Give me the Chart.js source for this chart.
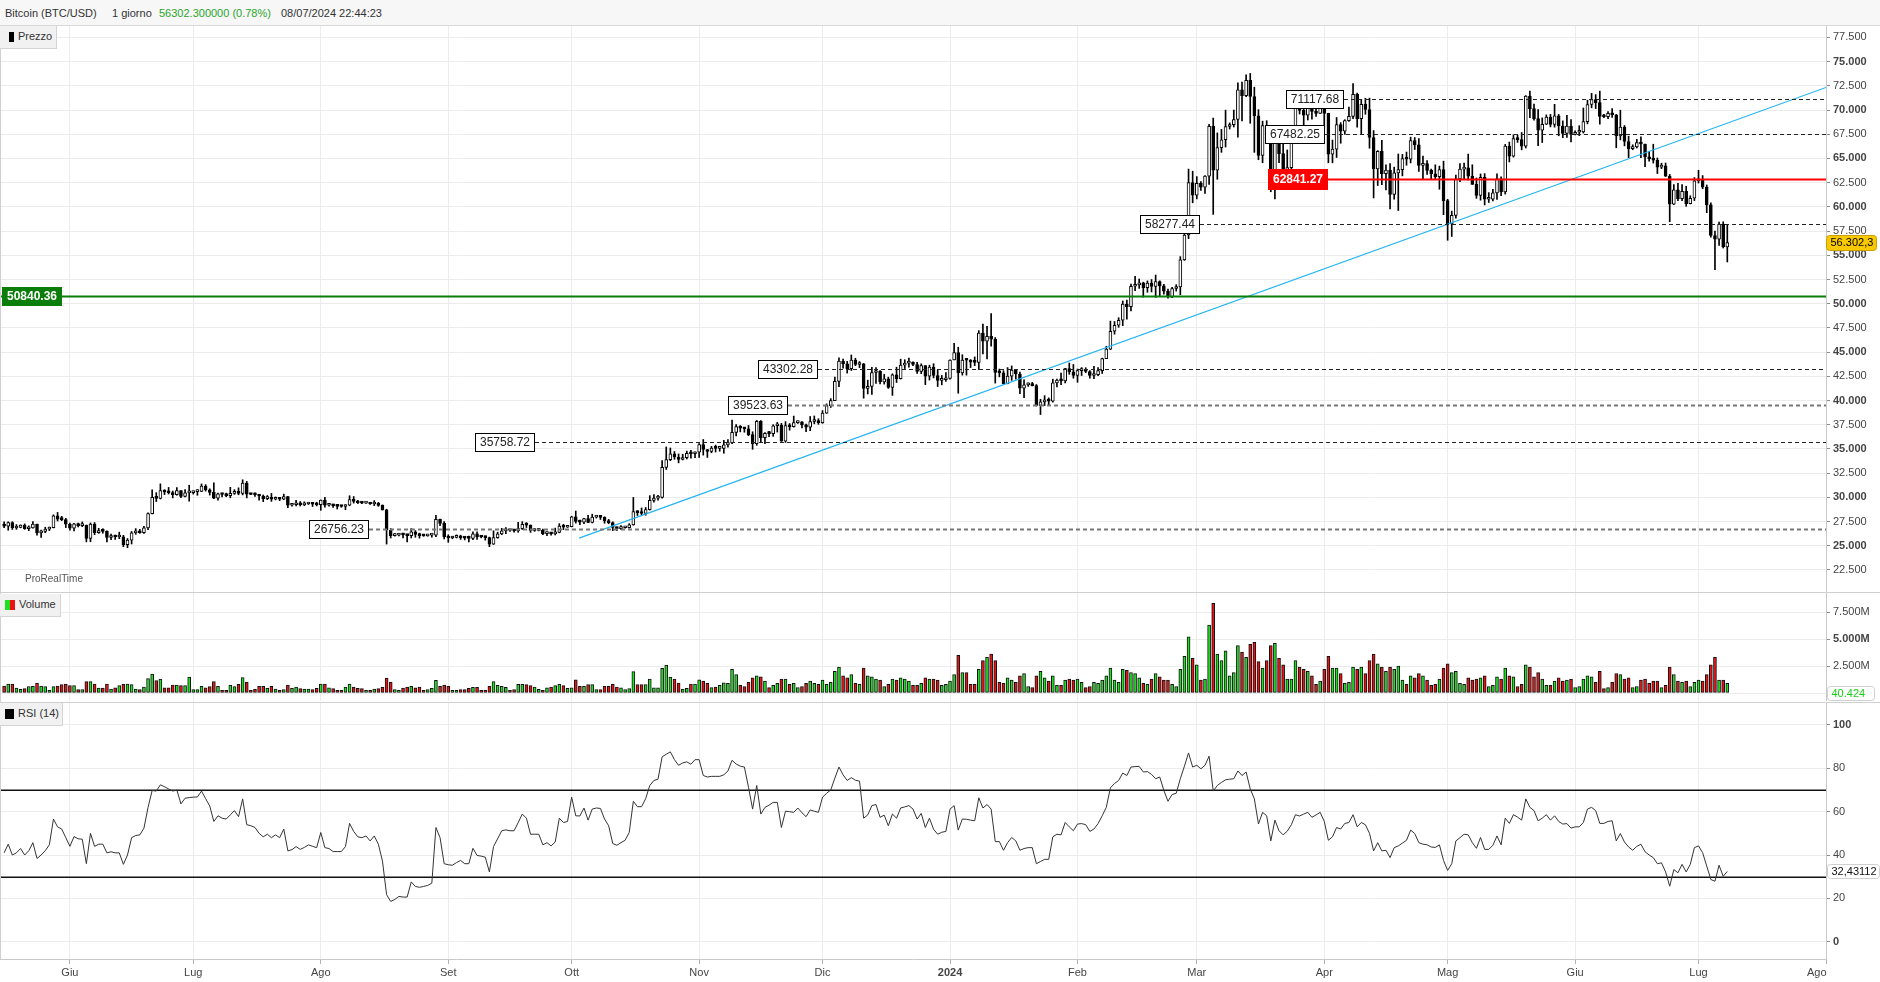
<!DOCTYPE html>
<html><head><meta charset="utf-8">
<script src="https://cdn.jsdelivr.net/npm/chart.js@4.4.1/dist/chart.umd.min.js"></script>
<style>
body{margin:0;background:#fff;width:1880px;height:982px;overflow:hidden;font-family:"Liberation Sans",Arial,sans-serif;position:relative;}
#hdr{position:absolute;left:0;top:0;width:1880px;height:25px;background:#f7f7f7;border-bottom:1px solid #d8d8d8;}
#hdr span{position:absolute;top:7px;font-size:11px;color:#333;white-space:nowrap;}
canvas{position:absolute;left:0;}
.sep{position:absolute;left:0;width:1880px;height:1px;background:#cfcfcf;}
.leg{position:absolute;left:0;background:#f1f1f1;border-right:1px solid #d4d4d4;border-bottom:1px solid #d4d4d4;font-size:11px;color:#333;}
.leg i{position:absolute;display:block;}
.leg span{position:absolute;white-space:nowrap;}
#prt{position:absolute;left:25px;top:573px;font-size:10px;color:#555;}
#lborder{position:absolute;left:0;top:26px;width:1px;height:933px;background:#d0d0d0;}
</style></head>
<body>
<div id="hdr">
 <span style="left:5px">Bitcoin (BTC/USD)</span>
 <span style="left:112px">1 giorno</span>
 <span style="left:159px;color:#2aa52a">56302.300000 (0.78%)</span>
 <span style="left:281px">08/07/2024 22:44:23</span>
</div>
<canvas id="cp" width="1880" height="566" style="top:26px;width:1880px;height:566px"></canvas>
<canvas id="cv" width="1880" height="108" style="top:593px;width:1880px;height:108px"></canvas>
<canvas id="cr" width="1880" height="279" style="top:703px;width:1880px;height:279px"></canvas>
<div class="sep" style="top:592px"></div>
<div class="sep" style="top:702px"></div>
<div id="lborder"></div>
<div class="leg" style="top:26px;width:56px;height:22px"><i style="left:9px;top:6px;width:5px;height:10px;background:#000"></i><span style="left:18px;top:4px">Prezzo</span></div>
<div class="leg" style="top:594px;width:60px;height:22px"><i style="left:5px;top:6px;width:5px;height:10px;background:#1fe01f"></i><i style="left:10px;top:6px;width:5px;height:10px;background:#ee1111"></i><span style="left:19px;top:4px">Volume</span></div>
<div class="leg" style="top:703px;width:62px;height:22px"><i style="left:5px;top:6px;width:9px;height:10px;background:#000"></i><span style="left:18px;top:4px">RSI (14)</span></div>
<div id="prt">ProRealTime</div>
<script>
// ---------- DATA (daily, 16 May 2023 -> 8 Jul 2024) ----------
const open = [
27170,27030,27400,26830,26890,27120,26750,26850,27230,26330,26480,26720,26870,28080,27750,27700,
27220,26820,27250,27070,27120,25760,27240,26350,26500,26480,25850,25940,25900,25920,25120,25580,26330,26510,26340,26850,28310,30010,29890,30690,30550,30470,30270,30690,30080,30450,
30480,30590,30620,31160,30770,30510,29900,30350,30290,30170,30410,30620,30390,31480,30320,30290,30250,30140,29860,29920,29800,29910,29800,30080,29180,29230,29350,29220,29310,29350,29280,
29230,29710,29180,29190,29110,29070,29050,29180,29770,29580,29440,29400,29420,29310,29410,29170,28700,26620,26050,26100,26190,26120,26040,26430,26160,26050,26010,26090,26100,27730,27300,
25930,25800,25870,25970,25820,25790,25760,26240,25910,25900,25840,25160,25840,26230,26530,26610,26570,26530,26770,27210,27130,26570,26580,26580,26250,26300,26220,26370,27030,26910,
26970,27980,27510,27430,27800,27410,27950,27970,27930,27600,27390,26880,26760,26860,26860,27160,28520,28420,28330,28720,29680,29920,30000,33090,33900,34500,34160,33910,34090,34540,34500,
34670,35440,34940,34730,35080,35050,35050,35420,35650,36700,37310,37140,37070,36480,35550,37860,36150,36600,36570,37390,37470,35810,37420,37290,37720,37790,37480,37250,37830,37850,
37710,38690,39470,39980,41980,44080,43780,43290,44170,43720,43790,41240,41450,42890,43020,41930,42240,41360,42660,42260,43650,43860,43980,43720,43010,43610,42520,43440,42580,42070,42140,
42280,44180,44940,42850,44180,44160,43970,43930,46970,46120,46630,46340,42890,42850,41730,42510,43150,42740,41260,41620,41670,41540,39500,39850,40080,39930,41820,42120,42030,43300,42950,
42580,43080,43190,42990,42580,42660,43080,44320,45300,47150,47770,48290,49960,49700,51800,51940,52160,51660,52120,51780,52280,51840,51300,50730,51570,51730,54520,57090,62500,
61200,62440,62030,63170,68330,63800,66110,66930,68300,68500,69020,72100,71480,73080,71400,69400,65320,68390,67550,61910,67910,65490,63780,64060,67200,70780,69960,69470,70780,69870,69640,
71290,69650,65450,65970,68500,67830,68900,69340,71620,69120,70580,70060,67160,63910,65740,63420,63790,61280,63510,63840,64990,64930,66840,66410,64280,64480,63760,63420,63110,63840,
60640,58250,59120,62890,63890,64030,63160,62330,61190,63050,60790,60790,61450,62900,61550,66270,65230,67050,66940,66280,71450,70140,69120,67930,68530,69280,68510,69390,68350,67580,68350,
67490,67710,67750,68800,70570,71080,70760,69340,69310,69650,69510,67320,68240,66750,66010,66190,66640,66490,65150,64960,64830,64100,64250,63180,60280,61750,60840,61610,60320,60890,
62680,62850,62030,60200,57040,56660,58230,55850];
const high = [
27470,27470,27480,27180,27160,27260,27050,27490,27230,26620,26910,26930,28190,28440,28030,27830,
27350,27300,27330,27460,27130,27350,27390,26800,26760,26530,26200,26090,26400,26070,25740,26470,26770,26690,26990,28400,30770,30480,31390,30790,31020,30650,31000,30700,30810,31250,
30650,30780,31380,31310,30880,31500,30440,30380,30430,31030,30790,30980,31810,31640,30390,30450,30320,30240,30180,30400,30040,29990,30330,30090,29330,29680,29560,29530,29410,29440,29490,
29730,30000,29390,29310,29120,29180,29220,30160,30080,29680,29540,29460,29450,29660,29470,29220,28770,26780,26260,26270,26250,26130,26780,26560,26300,26100,26180,26220,28140,27760,27490,
26130,25980,26120,26090,25860,26000,26440,26430,25930,26000,25890,26540,26400,26800,26880,26670,26630,27420,27490,27390,27150,26730,26630,26730,26430,26390,26820,27280,27220,27090,
28050,28580,27660,27830,28130,28260,28000,28100,27990,27720,27470,26930,27090,26990,27280,29990,28600,28900,28950,30170,30280,30200,33800,35200,35100,34730,34480,34450,34770,34860,34700,
35560,35970,34950,35260,35390,35280,35890,35970,37970,37520,37410,37220,37420,36770,37940,37930,36680,36820,37500,37740,37640,37820,37620,38390,37880,37820,37560,38350,38400,38120,
38960,39650,40190,42410,44400,44270,44040,44700,44360,44020,43830,42100,43430,43390,43090,42700,42410,42760,43440,44270,44210,44370,44000,43930,43790,43610,43650,43800,43120,42590,42880,
44190,45900,45500,44730,44340,44230,44500,47220,47900,47650,48970,46500,43250,43080,43400,43570,43200,42930,42130,41830,41880,41650,40120,40500,40270,42200,42220,42830,43310,43870,43720,
43250,43400,43380,43100,43520,43400,44370,45590,48200,48160,48550,50280,50360,52020,52820,52550,52220,52350,52490,52960,52360,52010,51520,51700,51960,54860,57550,63900,63680,
63130,62620,63230,68530,69170,67640,68000,69990,68670,70000,72800,72890,73640,73780,72360,70040,68850,68900,68090,68030,68170,66630,65880,67520,71480,71650,71560,71170,70910,70280,71340,
71340,69670,66900,69230,68700,69000,70300,72720,71740,71100,71220,71230,67880,65810,66870,64350,64480,64100,65460,65420,65660,67200,67160,67060,65240,64770,63900,64340,64210,64720,
60780,59560,63290,64470,64510,65450,64350,62980,63400,63430,61470,61820,63420,63100,66450,66690,67440,67400,67680,71490,71950,70620,70060,69190,69500,69550,70590,69550,68880,69450,69020,
67840,68380,70210,71020,71720,71590,71950,69550,69850,70160,69540,69980,68400,67300,66410,66970,67240,66490,65740,66470,65050,64510,64530,63350,62290,62420,62300,62130,61150,63020,
63770,63230,62260,60420,57500,58440,58460,58180];
const low = [
26870,26600,26680,26690,26850,26690,26550,26810,26090,25870,26340,26560,26840,27560,27590,26870,
26600,26520,26950,26970,25400,25410,26140,26280,26290,25400,25630,25650,25730,24900,24800,25180,26180,26280,26270,26650,28280,29560,29830,30280,30340,29940,30230,29960,30050,29600,
30330,30210,30580,30640,30230,29860,29710,30050,30060,29950,30300,30260,30250,29940,30260,30080,29700,29550,29760,29580,29730,29650,29750,28920,29080,29110,29100,29130,29260,29050,29110,
28660,28990,29080,28950,28790,28970,28720,29130,29400,29350,29350,29360,29260,29140,29070,28680,25170,25800,25990,26000,25810,25380,25800,25870,25780,25970,25980,25880,25930,27070,25700,
25350,25720,25800,25650,25600,25400,25630,25650,25810,25580,24900,25130,25770,26140,26240,26480,26400,26390,26680,26880,26380,26490,26530,26130,26030,26100,26110,26330,26660,26890,
26950,27330,27170,27270,27370,27350,27860,27710,27320,27270,26560,26560,26690,26820,26820,27120,28120,28200,28150,28680,29500,29700,29910,32880,33780,33930,33560,33860,33960,34050,34100,
34120,34360,34120,34600,34680,34760,34550,35170,35540,36350,36760,36720,36360,34960,35370,35690,35550,36260,36300,36740,35780,35670,36930,37250,37640,37180,36780,36880,37590,37540,
37640,38670,39280,39980,41440,43350,42830,43100,43600,43390,40240,40680,40630,41760,41700,41690,41250,40530,41860,42210,43300,43430,43600,42800,42770,41640,42110,42330,41440,41620,41960,
42200,44180,40750,42620,42620,43400,43600,43200,44800,44300,45600,41800,42440,41720,41720,42080,42200,40700,40280,41450,41500,39430,38550,39480,39520,39830,41400,41630,41810,42700,42300,
41880,42580,42880,42310,42260,42560,42790,44320,45250,46850,47560,47730,48400,49250,51340,51580,50680,51180,51210,50660,50830,50980,50560,50630,51300,50930,54470,56720,60420,
60820,61690,61400,62320,59220,62850,65630,66180,68040,68250,67190,68880,71380,68630,65630,64870,64560,66620,61560,60810,64570,62300,63350,63810,66650,69590,68350,68970,69060,69340,69640,
68120,64550,64550,65100,66570,67490,68820,69100,68240,67520,69560,66060,60920,62200,62300,61760,59780,60790,59620,63200,64300,64540,65920,63660,62800,63340,62820,62820,61820,59190,
56550,56940,58840,62600,62870,62770,62320,60880,60690,60200,60450,60620,60760,61150,61320,64640,65140,66660,65890,66080,69210,68950,66310,66640,68500,68260,68230,67340,67150,67180,66700,
67440,67350,67620,68570,70230,70150,68540,69220,69120,69230,66100,66920,66300,65080,65900,66080,65080,64150,64730,64520,63440,63950,63130,58470,60230,60650,60640,60060,60300,60650,
62460,61870,59400,56860,53520,56020,55750,54310];
const close = [
27030,27400,26830,26890,27120,26750,26850,27230,26330,26480,26720,26870,28080,27750,27700,27220,
26820,27250,27070,27120,25760,27240,26350,26500,26480,25850,25940,25900,25920,25120,25580,26330,26510,26340,26850,28310,30010,29890,30690,30550,30470,30270,30690,30080,30450,30480,
30590,30620,31160,30770,30510,29900,30350,30290,30170,30410,30620,30390,31480,30320,30290,30250,30140,29860,29920,29800,29910,29800,30080,29180,29230,29350,29220,29310,29350,29280,29230,
29710,29180,29190,29110,29070,29050,29180,29770,29580,29440,29400,29420,29310,29410,29170,28700,26620,26050,26100,26190,26120,26040,26430,26160,26050,26010,26090,26100,27730,27300,25930,
25800,25870,25970,25820,25790,25760,26240,25910,25900,25840,25160,25840,26230,26530,26610,26570,26530,26770,27210,27130,26570,26580,26580,26250,26300,26220,26370,27030,26910,26970,
27980,27510,27430,27800,27410,27950,27970,27930,27600,27390,26880,26760,26860,26860,27160,28520,28420,28330,28720,29680,29920,30000,33090,33900,34500,34160,33910,34090,34540,34500,34670,
35440,34940,34730,35080,35050,35050,35420,35650,36700,37310,37140,37070,36480,35550,37860,36150,36600,36570,37390,37470,35810,37420,37290,37720,37790,37480,37250,37830,37850,37710,
38690,39470,39980,41980,44080,43780,43290,44170,43720,43790,41240,41450,42890,43020,41930,42240,41360,42660,42260,43650,43860,43980,43720,43010,43610,42520,43440,42580,42070,42140,42280,
44180,44940,42850,44180,44160,43970,43930,46970,46120,46630,46340,42890,42850,41730,42510,43150,42740,41260,41620,41670,41540,39500,39850,40080,39930,41820,42120,42030,43300,42950,42580,
43080,43190,42990,42580,42660,43080,44320,45300,47150,47770,48290,49960,49700,51800,51940,52160,51660,52120,51780,52280,51840,51300,50730,51570,51730,54520,57090,62500,61200,
62440,62030,63170,68330,63800,66110,66930,68300,68500,69020,72100,71480,73080,71400,69400,65320,68390,67550,61910,67910,65490,63780,64060,67200,70780,69960,69470,70780,69870,69640,71290,
69650,65450,65970,68500,67830,68900,69340,71620,69120,70580,70060,67160,63910,65740,63420,63790,61280,63510,63840,64990,64930,66840,66410,64280,64480,63760,63420,63110,63840,60640,
58250,59120,62890,63890,64030,63160,62330,61190,63050,60790,60790,61450,62900,61550,66270,65230,67050,66940,66280,71450,70140,69120,67930,68530,69280,68510,69390,68350,67580,68350,67490,
67710,67750,68800,70570,71080,70760,69340,69310,69650,69510,67320,68240,66750,66010,66190,66640,66490,65150,64960,64830,64100,64250,63180,60280,61750,60840,61610,60320,60890,62680,
62850,62030,60200,57040,56660,58230,55850,56302];
// volume, millions
const volume = [
0.65,0.83,0.83,0.46,0.34,0.40,0.59,0.62,0.93,0.65,0.59,0.25,0.59,0.65,0.77,0.83,
0.68,0.68,0.31,0.31,1.05,1.05,0.83,0.46,0.46,0.83,0.37,0.49,0.68,0.80,0.83,0.77,0.37,0.31,0.56,1.33,1.76,1.14,1.30,0.49,0.49,0.74,0.74,0.68,0.68,1.48,
0.31,0.31,0.62,0.49,0.59,1.05,0.62,0.25,0.25,0.74,0.59,0.80,1.42,0.99,0.25,0.34,0.62,0.62,0.43,0.62,0.37,0.25,0.31,0.74,0.43,0.56,0.40,0.37,0.37,0.31,0.43,
0.83,0.83,0.49,0.40,0.25,0.25,0.56,0.83,0.56,0.43,0.40,0.25,0.25,0.37,0.40,0.52,1.39,0.99,0.31,0.25,0.46,0.56,0.62,0.49,0.56,0.25,0.31,0.43,1.17,0.62,0.74,
0.62,0.25,0.25,0.31,0.31,0.43,0.52,0.52,0.25,0.25,0.62,1.05,0.71,0.62,0.52,0.25,0.31,0.80,0.80,0.77,0.68,0.56,0.34,0.25,0.49,0.56,0.68,0.80,0.68,0.43,
0.49,1.23,0.62,0.62,0.77,0.77,0.31,0.31,0.62,0.62,0.80,0.56,0.49,0.31,0.40,1.98,0.77,0.77,0.77,1.30,0.49,0.49,2.28,2.59,1.48,1.30,0.93,0.37,0.43,0.83,0.83,
1.23,1.1,0.9,0.5,0.55,0.7,0.95,0.9,2.2,1.7,0.7,0.6,1.0,1.4,1.6,1.5,1.1,0.5,0.7,0.9,1.3,1.3,0.8,0.9,0.5,0.6,0.9,1.1,0.9,0.8,
1.2,0.8,1.0,2.0,2.4,1.6,1.4,1.7,0.9,0.8,2.3,1.6,1.5,1.3,1.2,0.6,0.8,1.3,1.2,1.4,1.3,1.1,0.7,0.7,0.9,1.4,1.3,1.3,1.2,0.7,0.8,
1.1,1.7,3.5,1.9,1.9,0.8,0.8,2.2,3.0,3.3,3.6,3.0,1.0,0.9,1.4,1.2,1.0,1.6,1.8,0.6,0.5,1.6,2.0,1.4,1.1,1.6,0.7,0.7,1.2,1.3,1.2,
1.3,1.0,0.5,0.6,1.0,0.9,1.2,1.6,2.3,1.2,1.0,2.2,2.1,1.9,1.8,1.4,0.9,0.8,1.3,1.8,1.5,1.2,1.2,0.8,0.6,2.2,3.4,5.2,3.2,
2.6,1.2,1.3,6.3,8.3,3.6,3.0,3.9,1.6,1.9,4.4,3.8,3.3,4.5,4.7,2.9,2.3,3.0,4.4,4.6,3.2,2.6,1.3,1.3,3.0,2.4,2.2,2.0,1.6,0.8,1.1,
2.2,3.4,2.3,2.3,1.8,0.9,1.0,2.4,2.2,2.4,1.8,3.0,3.6,2.7,2.4,2.0,2.4,2.2,2.5,1.2,0.8,1.6,1.4,1.8,1.6,1.2,0.7,0.8,1.3,2.3,
2.7,1.9,2.0,0.9,0.8,1.4,1.2,1.3,1.4,1.6,0.6,0.7,1.5,1.3,2.3,1.6,1.5,0.6,0.8,2.6,2.4,1.5,1.9,1.3,0.7,0.7,1.1,1.4,1.1,1.2,1.3,
0.5,0.6,1.3,1.6,1.5,1.0,2.0,0.4,0.5,1.0,1.8,1.7,1.3,1.4,0.5,0.6,1.2,1.3,0.9,1.1,1.1,0.5,0.7,2.4,1.7,1.1,1.0,1.1,0.6,1.0,
1.2,1.1,1.7,2.6,3.3,1.2,1.2,0.9];
const rsi = [
41,45,40,41,43,40,42,45.7,38.4,40,42,44.7,56.6,53,52,48,
44,48.5,47.5,47.3,36,50,44,45,45,41,41.5,41,41,35.7,40,48,49,49.3,52.4,62,69.8,69.5,72.4,71.5,70.5,69.5,70,63.6,66.2,66.5,
66.7,66.8,69.5,66,62.6,55.5,58.1,57,56.6,58.5,60.5,57.7,65.9,54,53.5,52.7,50,48.4,49.6,48,49.3,48,52,41.9,42.5,43.9,42.6,43.5,44.7,44,43.4,
50.4,43.4,43,41.6,41.6,41.6,43.9,54.6,50.9,48.4,48,48.8,46.5,48.8,45,37.2,21.7,18.6,19.5,20.9,20.6,20.6,27.6,25.5,25.1,25.5,26,27,52.7,48,36,
35.5,35.3,36.5,37.5,36,36,43.1,39.8,39.5,39,32.2,43.9,47.5,51.2,51.6,51.2,51.2,55,58.9,57,49.6,49.6,49.6,44.7,45.7,44.2,46,57,55,55.5,
66.7,58.1,58,61.7,56.1,61.2,61.7,61.5,56.6,53.5,45.3,44.5,45.7,46.8,50.4,64.8,62.3,62.3,66,72.1,74.4,75,85.3,86.5,87.6,84,81.4,82.5,83,81.9,84,
84,76.7,76,76.3,76.3,76.3,77,78.8,83.7,82,81,80.6,71.3,61.2,72.1,58.9,62,63,64.3,64.3,52.7,60.2,60,59.7,61.7,59.5,57.7,60.8,60.2,59.7,
66.7,68.5,70,75.5,80.6,77,74.4,75.7,74.5,74.1,57,58.5,62.8,63.3,57.4,58.4,53.5,58.9,57,61.7,62.2,62.8,61.2,56.6,59.2,52.7,57,51.9,49.6,50.5,50.9,
61.2,62.8,51.5,56.6,56.5,56.1,55.8,66.4,61.7,63.3,61.2,46.2,46.2,42.2,45.7,48.1,46.5,42.2,43,43.4,43.4,36,37,38,38,48.4,49.6,49.3,55,53,51.2,
54.3,54.5,54,50.9,52,54.5,58.1,62,71,73,74.4,77.8,76.7,80.6,80.8,80.9,78.3,78.5,77.2,75.2,76,69.8,64.8,67.9,68.5,75.2,81,87.1,80.6,
81.4,79.8,81.4,85.6,69.5,72.1,73.5,74.7,75,75.2,78.8,76.7,78.3,70.5,65.9,54.3,59.7,58.1,46.5,56.1,51.2,49.3,51,54,58.6,58,58.9,59.7,57.4,58.5,59.7,
55.5,46.8,48.4,52.7,52,54.6,55,58.6,53,55,54,50,41.9,45.7,41.9,42.2,38.8,43.4,44.2,45.5,46.8,51.5,49.9,45.7,45,44.7,43.7,43.5,44.7,37.5,
32.9,36,46.5,48,49.6,49.3,45.7,43.1,48.1,42.6,42.6,44.5,48.8,44.7,57,54.6,58.6,57.5,56.1,65.9,62,60.5,55.8,57,58.6,56.1,58.1,55.5,54.3,54.5,52.4,
53,53,55,61.2,62,60.5,54.6,54.6,55.5,55.8,46.5,49.9,46,43.7,42.2,44,45,41.5,40,38.8,36,36.4,32.2,25.6,33.3,31.8,35.7,32.2,35.7,43.4,
44.2,41.1,34.9,28.7,27.9,35.3,30.2,32.4];
// axis ticks
const monthTicks = [16,46,77,108,138,169,199,230,261,290,321,351,382,412,443];
const monthLabels = ['Giu','Lug','Ago','Set','Ott','Nov','Dic','2024','Feb','Mar','Apr','Mag','Giu','Lug','Ago'];
const priceTicks = [22500,25000,27500,30000,32500,35000,37500,40000,42500,45000,47500,50000,52500,55000,57500,60000,62500,65000,67500,70000,72500,75000,77500];
const volTicks = [0,2.5,5,7.5];
const volTickLabels = ['','2.500M','5.000M','7.500M'];
const rsiTicks = [0,20,40,60,80,100];
const rsiBands = [70,30];
// drawn levels and trend line
const levelValues = [71117.68,67482.25,62841.27,58277.44,50840.36,43302.28,39523.63,35758.72,26756.23];
const trendX = [139.8,443];
const trendY = [25790,72330];
const lastPrice = 56302.3, lastPriceLabel = '56.302,3';
const lastVolLabel = '40.424';
const lastRsiValue = 32.43112, lastRsiLabel = '32,43112';

// ---------- checks ----------
[open,high,low,volume,rsi].forEach((a,k)=>{ if(a.length!==close.length) throw new Error('len mismatch '+k+': '+a.length+' vs '+close.length); });

// ---------- styles ----------
const FF = '"Liberation Sans", Arial, sans-serif';
Chart.defaults.font.family = FF;
Chart.defaults.font.size = 11;
Chart.defaults.color = '#444';
const levelStyle = [
 {day:311.8,kind:'dash'},{day:306.7,kind:'dash'},{day:307.3,kind:'red'},{day:276.3,kind:'dash'},
 {day:-1,kind:'green'},{day:183.4,kind:'dash'},{day:176.1,kind:'gray'},{day:114.5,kind:'dash'},{day:74.2,kind:'gray'}];
const GRID = '#ececec';
const fmtIt = v => String(v).replace(/\B(?=(\d{3})+(?!\d))/g,'.');

function xScale(show){
  return {type:'linear',min:-1,max:443,offset:false,
    afterBuildTicks:s=>{s.ticks=monthTicks.map(v=>({value:v}));},
    grid:{color:GRID,offset:false,drawTicks:show,tickLength:5,tickColor:'#b0b0b0'},
    border:{display:show,color:'#c8c8c8'},
    ticks:{display:show,autoSkip:false,maxRotation:0,padding:2,color:'#444',
      font:ctx=>({family:FF,size:11,weight:(monthLabels[ctx.index]==='2024')?'bold':'normal'}),
      callback:(v,i)=> i===monthLabels.length-1 ? monthLabels[i]+'\u2007\u2007\u2007' : monthLabels[i]},
    afterFit:s=>{s.height=show?23:0;s.paddingLeft=0;s.paddingRight=0;}
  };
}
function yScale(min,max,ticks,labelFn,boldFn){
  return {position:'right',min,max,
    afterBuildTicks:s=>{s.ticks=ticks.map(v=>({value:v}));},
    grid:{color:GRID,tickLength:4,tickColor:'#8a8a8a'},
    border:{color:'#c8c8c8'},
    ticks:{padding:3,color:'#444',autoSkip:false,
      font:ctx=>({family:FF,size:11,weight:(ctx.tick&&boldFn(ctx.tick.value))?'bold':'normal'}),
      callback:(v,i)=>labelFn(v,i)},
    afterFit:s=>{s.width=54;s.paddingTop=0;s.paddingBottom=0;}
  };
}
const common = {responsive:false,maintainAspectRatio:false,animation:false,devicePixelRatio:1,
  layout:{padding:0},plugins:{legend:{display:false},tooltip:{enabled:false}}};

function sideBox(ctx,x,yc,w,h,fill,stroke,text,color){
  ctx.save();
  ctx.beginPath();
  const r=3, y0=Math.round(yc-h/2)+0.5, x0=Math.round(x)+0.5;
  ctx.moveTo(x0+r,y0);ctx.lineTo(x0+w-r,y0);ctx.quadraticCurveTo(x0+w,y0,x0+w,y0+r);
  ctx.lineTo(x0+w,y0+h-r);ctx.quadraticCurveTo(x0+w,y0+h,x0+w-r,y0+h);
  ctx.lineTo(x0+r,y0+h);ctx.quadraticCurveTo(x0,y0+h,x0,y0+h-r);ctx.lineTo(x0,y0+r);ctx.quadraticCurveTo(x0,y0,x0+r,y0);
  ctx.fillStyle=fill;ctx.fill();ctx.strokeStyle=stroke;ctx.lineWidth=1;ctx.stroke();
  ctx.fillStyle=color;ctx.font='11px '+FF;ctx.textAlign='left';ctx.textBaseline='middle';
  ctx.fillText(text,x0+4,yc+0.5);
  ctx.restore();
}

// ---------- PRICE ----------
const pricePlugin = {id:'levels',
  afterDatasetsDraw(chart){
    const {ctx,chartArea:a,scales:{x,y}} = chart;
    ctx.save();
    levelValues.forEach((v,k)=>{
      const st = levelStyle[k];
      const py = Math.round(y.getPixelForValue(v))+0.5;
      const bold = st.kind==='red'||st.kind==='green';
      ctx.font=(bold?'bold ':'')+'12px '+FF;
      const txt=v.toFixed(2);
      const w=Math.round(ctx.measureText(txt).width+10), h=st.kind==='red'?21:19;
      const bx = st.kind==='green'?2:Math.round(x.getPixelForValue(st.day));
      ctx.beginPath();
      if(st.kind==='dash'){ctx.setLineDash([4,3]);ctx.lineWidth=1;ctx.strokeStyle='#222';}
      else if(st.kind==='gray'){ctx.setLineDash([4,3]);ctx.lineWidth=2;ctx.strokeStyle='#777';}
      else if(st.kind==='red'){ctx.setLineDash([]);ctx.lineWidth=2;ctx.strokeStyle='#ff0000';}
      else {ctx.setLineDash([]);ctx.lineWidth=2;ctx.strokeStyle='#0a7d0a';}
      const x0 = st.kind==='green'?a.left:bx+w;
      ctx.moveTo(x0,py);ctx.lineTo(a.right,py);ctx.stroke();ctx.setLineDash([]);
      const top=Math.round(py-h/2);
      if(st.kind==='red'){ctx.fillStyle='#ff0000';ctx.fillRect(bx,top,w,h);ctx.fillStyle='#fff';}
      else if(st.kind==='green'){ctx.fillStyle='#0a7d0a';ctx.fillRect(bx,top,w,h);ctx.fillStyle='#fff';}
      else {ctx.fillStyle='#fff';ctx.fillRect(bx,top,w,h);ctx.strokeStyle='#000';ctx.lineWidth=1;ctx.strokeRect(bx+0.5,top+0.5,w-1,h-1);ctx.fillStyle='#222';}
      ctx.textAlign='center';ctx.textBaseline='middle';ctx.fillText(txt,bx+w/2,py+0.5);
    });
    ctx.restore();
  },
  afterDraw(chart){
    const {ctx,chartArea:a,scales:{y}} = chart;
    sideBox(ctx,a.right,y.getPixelForValue(lastPrice),50,15,'#f8c800','#c9a000',lastPriceLabel,'#000');
  }
};
new Chart(document.getElementById('cp'),{
  type:'bar',
  data:{datasets:[
    {type:'line',data:trendX.map((v,i)=>({x:v,y:trendY[i]})),borderColor:'#22b4f2',borderWidth:1.2,pointRadius:0,order:-1},
    {data:close.map((c,i)=>({x:i,y:[open[i],c]})),backgroundColor:close.map((c,i)=>c>=open[i]?'#fff':'#000'),
      borderColor:'#000',borderWidth:1,borderSkipped:false,barThickness:3,grouped:false,minBarLength:2,order:0},
    {data:high.map((h,i)=>({x:i,y:[low[i],h]})),backgroundColor:'#000',borderWidth:0,barThickness:1,grouped:false,order:1}
  ]},
  options:Object.assign({},common,{scales:{
    x:xScale(false),
    y:yScale(20220,78680,priceTicks,v=>fmtIt(v),v=>v%5000===0)
  }}),
  plugins:[pricePlugin]
});

// ---------- VOLUME ----------
const volPlugin={id:'vlab',afterDraw(chart){
  const {ctx,chartArea:a,scales:{y}}=chart;
  sideBox(ctx,a.right+1,y.getPixelForValue(0),47,14,'#fff','#cfcfcf',lastVolLabel,'#16d016');
}};
new Chart(document.getElementById('cv'),{
  type:'bar',
  data:{datasets:[{data:volume.map((v,i)=>({x:i,y:v})),
    backgroundColor:close.map((c,i)=>c>=open[i]?'#1fe01f':'#e81414'),
    borderColor:'#111',borderWidth:1,borderSkipped:false,barThickness:3,grouped:false}]},
  options:Object.assign({},common,{scales:{
    x:xScale(false),
    y:yScale(-0.74,9.26,volTicks,(v,i)=>volTickLabels[i],v=>v===5)
  }}),
  plugins:[volPlugin]
});

// ---------- RSI ----------
const rsiPlugin={id:'rsib',
  beforeDatasetsDraw(chart){
    const {ctx,chartArea:a,scales:{y}}=chart;
    ctx.save();ctx.strokeStyle='#111';ctx.lineWidth=1.5;
    rsiBands.forEach(v=>{const py=Math.round(y.getPixelForValue(v))+0.25;ctx.beginPath();ctx.moveTo(a.left,py);ctx.lineTo(a.right,py);ctx.stroke();});
    ctx.restore();
  },
  afterDraw(chart){
    const {ctx,chartArea:a,scales:{y}}=chart;
    sideBox(ctx,a.right+1,y.getPixelForValue(lastRsiValue),52,14,'#fff','#cfcfcf',lastRsiLabel,'#111');
  }};
new Chart(document.getElementById('cr'),{
  type:'line',
  data:{datasets:[{data:rsi.map((v,i)=>({x:i,y:v})),borderColor:'#333',borderWidth:1,pointRadius:0,tension:0}]},
  options:Object.assign({},common,{scales:{
    x:xScale(true),
    y:yScale(-7.98,110.15,rsiTicks,v=>String(v),v=>v===0||v===100)
  }}),
  plugins:[rsiPlugin]
});
</script>
</body></html>
